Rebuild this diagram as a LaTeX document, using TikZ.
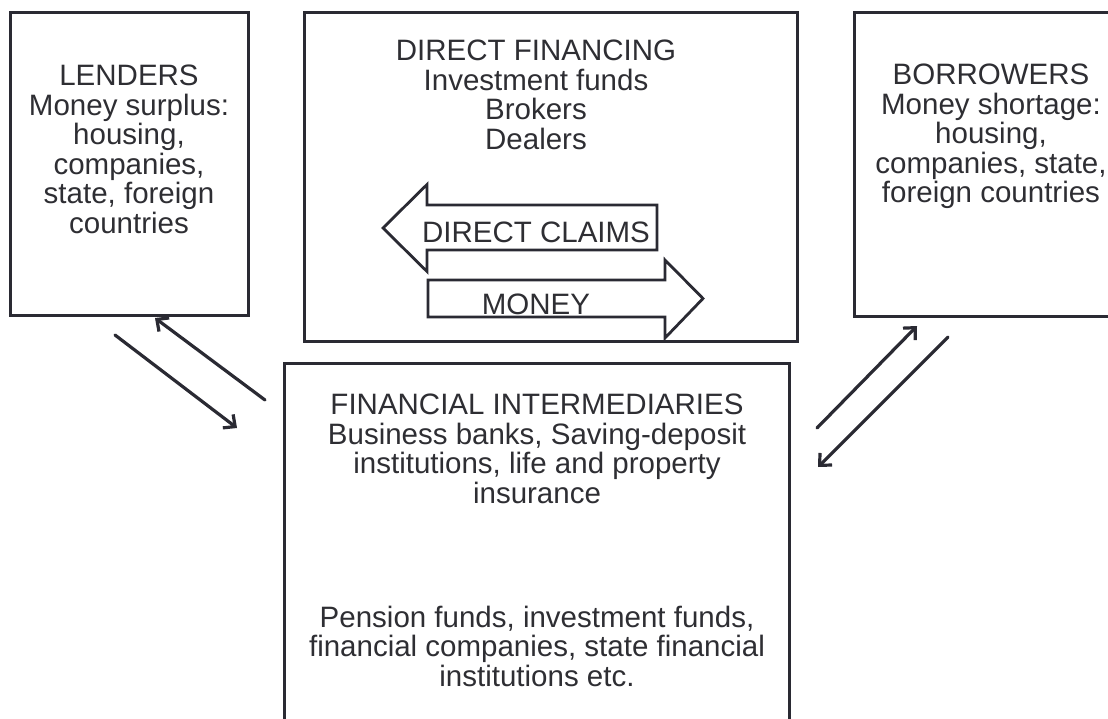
\documentclass[tikz,border=0pt]{standalone}
\usepackage{fontspec}
\setmainfont{Liberation Sans}
\usetikzlibrary{positioning}
\usetikzlibrary{arrows.meta}
\definecolor{boxline}{HTML}{2A2A33}
\definecolor{boxtext}{HTML}{2E2E33}

\begin{document}
\begin{tikzpicture}[x=1pt, y=-1pt,
  panel/.style={draw=boxline, line width=3pt, rectangle, inner sep=0pt, outer sep=0pt},
  words/.style={text=boxtext, align=center, inner sep=0pt, font=\fontsize{29.5}{29.5}\selectfont},
  flow/.style={draw=boxline, line width=3.2pt, line cap=round, -{Straight Barb[length=9pt,width=17pt]}},
  bigarrow/.style={draw=boxline, line width=2.8pt, line join=miter}]
\useasboundingbox (0,0) rectangle (1108,719);
\clip (0,0) rectangle (1108,719);
% the four boxes
\node[panel, minimum width=238pt, minimum height=302pt] (lend) at (129,164) {};
\node[panel, minimum width=493pt, minimum height=328pt] (direct) at (550.5,177) {};
\node[panel, minimum width=274pt, minimum height=303pt] (borr) at (991,164.5) {};
\node[panel, minimum width=505pt, minimum height=400pt] (inter) at (537,563) {};
% their texts
\node[words, below=52pt of lend.north] (lendtxt) {LENDERS\\Money surplus:\\housing,\\companies,\\state, foreign\\countries};
\node[words, below=51pt of borr.north] (borrtxt) {BORROWERS\\Money shortage:\\housing,\\companies, state,\\foreign countries};
\node[words, below=27pt of direct.north, xshift=-14.5pt] (directtxt) {DIRECT FINANCING\\Investment funds\\Brokers\\Dealers};
\node[words, below=31pt of inter.north] (intertxt) {FINANCIAL INTERMEDIARIES\\Business banks, Saving-deposit\\institutions, life and property\\insurance};
\node[words, below=242.5pt of inter.north] (intermore) {Pension funds, investment funds,\\financial companies, state financial\\institutions etc.};
% block arrows
\draw[bigarrow] (383,228) -- (427,184.5) -- (427,205) -- (657,205) -- (657,250) -- (427,250) -- (427,271.5) -- cycle;
\draw[bigarrow] (703,298.5) -- (665,260) -- (665,280) -- (428,280) -- (428,317) -- (665,317) -- (665,338) -- cycle;
\node[words, anchor=base] (claims) at (536,242.5) {DIRECT CLAIMS};
\node[words, anchor=base] (money) at (536,315) {MONEY};
% flows between the boxes
\coordinate (lendout) at (115,335);
\coordinate (interin) at (237,428);
\coordinate (interout) at (265,400);
\coordinate (lendin) at (155,318);
\coordinate (borrin) at (917,326);
\coordinate (intertoborr) at (817,428);
\coordinate (borrout) at (948,337);
\coordinate (interback) at (818,467);
\foreach \a/\b in {lendout/interin, interout/lendin, intertoborr/borrin, borrout/interback}
  \draw[flow] (\a) -- (\b);
\end{tikzpicture}
\end{document}
